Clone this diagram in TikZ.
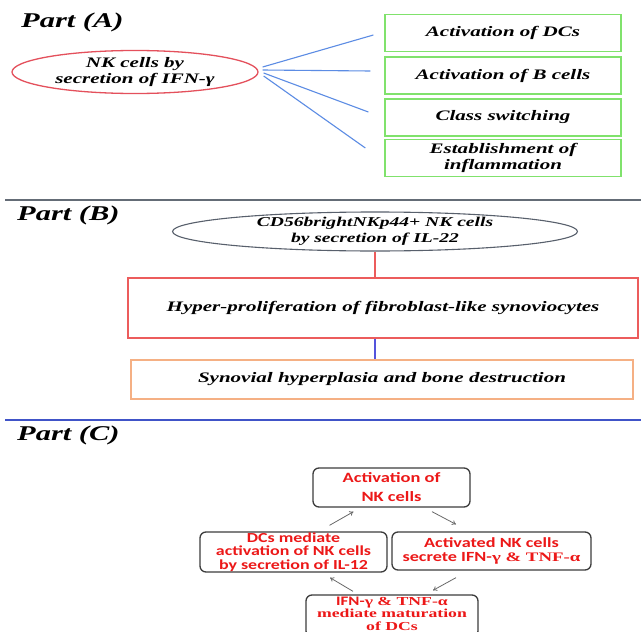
\documentclass[tikz,border=0pt]{standalone}
\usepackage{fontspec}
\setmainfont{Liberation Serif}
\newfontfamily\partfont[FakeStretch=1.45]{Liberation Serif}
\newfontfamily\loopfont[FakeStretch=1.3]{Carlito}
\newfontfamily\loopserif[FakeStretch=1.45]{Liberation Serif}
\definecolor{nkred}{RGB}{228,80,92}
\definecolor{nkgreen}{RGB}{128,226,108}
\definecolor{nkblue}{RGB}{92,140,228}
\definecolor{sepgray}{RGB}{100,108,118}
\definecolor{ellgray}{RGB}{88,96,108}
\definecolor{boxred}{RGB}{236,92,92}
\definecolor{linkblue}{RGB}{84,84,220}
\definecolor{boxorange}{RGB}{245,176,132}
\definecolor{sepblue}{RGB}{64,84,200}
\definecolor{looptext}{RGB}{236,24,24}
\definecolor{loopedge}{RGB}{60,60,60}
\definecolor{looparrow}{RGB}{105,105,105}
\usetikzlibrary{shapes.geometric,arrows.meta}

\tikzset{
  parttitle/.style={anchor=base west, inner sep=0pt, font=\partfont\bfseries\itshape\fontsize{21}{24}\selectfont},
  bodytext/.style={align=center, inner sep=0pt, font=\partfont\bfseries\itshape\fontsize{14.5}{15.5}\selectfont},
  effectbox/.style={draw=nkgreen, line width=1.3pt, minimum width=236pt, minimum height=37pt, bodytext},
  looptxt/.style={align=center, inner sep=0pt, text=looptext, font=\loopfont\bfseries\fontsize{13.8}{13.6}\selectfont},
  loopbox/.style={draw=loopedge, line width=1.3pt, rounded corners=6pt, looptxt},
  looplink/.style={draw=looparrow, line width=0.8pt, -{To[length=4pt,width=5pt]}}
}

\begin{document}
\begin{tikzpicture}[x=1pt,y=-1pt]
  \useasboundingbox (0,0) rectangle (641,632);
  \fill[white] (0,0) rectangle (641,632);

  % Part (A)
  \node[parttitle] (parta) at (21,27) {Part (A)};
  \node[ellipse, draw=nkred, line width=1.3pt, minimum width=246pt, minimum height=43pt] (nkifn) at (135,72) {};
  \node[bodytext] (nkifntext) at (135,72) {NK cells by\\secretion of IFN-γ};

  \node[effectbox] (dcs) at (503,33) {Activation of DCs};
  \node[effectbox] (bcells) at (503,75.5) {Activation of B cells};
  \node[effectbox] (switch) at (503,117.5) {Class switching};
  \node[effectbox] (inflam) at (503,158) {Establishment of\\inflammation};

  \draw[nkblue, line width=1.1pt] ([xshift=4pt,yshift=5pt]nkifn.east) -- ([xshift=-11pt,yshift=-2pt]dcs.west);
  \draw[nkblue, line width=1.1pt] ([xshift=4pt,yshift=2pt]nkifn.east) -- ([xshift=-14pt,yshift=4.5pt]bcells.west);
  \draw[nkblue, line width=1.1pt] ([xshift=5pt,yshift=-1pt]nkifn.east) -- ([xshift=-16pt,yshift=5.5pt]switch.west);
  \draw[nkblue, line width=1.1pt] ([xshift=5pt,yshift=-4pt]nkifn.east) -- ([xshift=-19pt,yshift=10pt]inflam.west);

  \draw[sepgray, line width=1.5pt] (5,200) -- (641,200);

  % Part (B)
  \node[parttitle] (partb) at (17,220) {Part (B)};
  \node[ellipse, draw=ellgray, line width=1.1pt, minimum width=405pt, minimum height=39pt] (il22) at (375,231.5) {};
  \node[bodytext, font=\partfont\bfseries\itshape\fontsize{13.5}{15.5}\selectfont] (il22text) at (375,231.5) {CD56brightNKp44+ NK cells\\by secretion of IL-22};
  \node[draw=boxred, line width=1.3pt, minimum width=510pt, minimum height=60pt, bodytext] (hyper) at (383,308) {Hyper-proliferation of fibroblast-like synoviocytes};
  \node[draw=boxorange, line width=1.3pt, minimum width=502pt, minimum height=39pt, bodytext] (destr) at (382,379.5) {Synovial hyperplasia and bone destruction};

  \draw[boxred, line width=1.1pt] (il22.south) -- (il22.south |- hyper.north);
  \draw[linkblue, line width=1.1pt] (hyper.south -| il22.south) -- (destr.north -| il22.south);

  \draw[sepblue, line width=2pt] (5,420) -- (641,420);

  % Part (C)
  \node[parttitle] (partc) at (17,440) {Part (C)};
  \node[loopbox, minimum width=157pt, minimum height=39pt, font=\loopfont\bfseries\fontsize{14.2}{19}\selectfont] (nkact) at (391.5,487.5) {Activation of\\NK cells};
  \node[loopbox, minimum width=199pt, minimum height=38pt, font=\loopfont\bfseries\fontsize{14}{14}\selectfont] (secrete) at (491.5,551) {Activated NK cells\\secrete IFN-{\loopserif\fontsize{13}{14}\selectfont γ \& TNF-α}};
  \node[loopbox, minimum width=172pt, minimum height=42pt] (mature) at (392,616) {};
  \node[looptxt, font=\loopserif\bfseries\fontsize{12.2}{12.4}\selectfont] (maturetext) at (392,613.5) {{\loopfont\fontsize{13}{12.4}\selectfont IFN-}γ \& TNF-α\\mediate maturation\\of DCs};
  \node[loopbox, minimum width=187pt, minimum height=40pt] (dcmed) at (293.5,552) {DCs mediate\\activation of NK cells\\by secretion of IL-12};

  \draw[looplink] ([xshift=36pt,yshift=6pt]dcmed.north) -- ([xshift=-38pt,yshift=-4pt]nkact.south);
  \draw[looplink] ([xshift=40.5pt,yshift=-4pt]nkact.south) -- ([xshift=-35.5pt,yshift=7pt]secrete.north);
  \draw[looplink] ([xshift=-35.5pt,yshift=-7pt]secrete.south) -- ([xshift=41pt,yshift=4pt]mature.north);
  \draw[looplink] ([xshift=-39pt,yshift=3pt]mature.north) -- ([xshift=36.5pt,yshift=-5pt]dcmed.south);
\end{tikzpicture}
\end{document}
